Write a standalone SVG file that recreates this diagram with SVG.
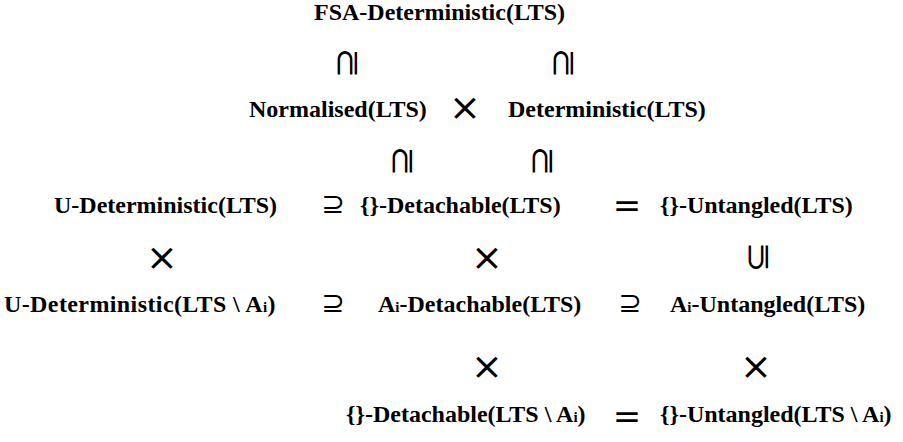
<svg xmlns="http://www.w3.org/2000/svg" width="903" height="442" viewBox="0 0 903 442">
<style>
.n{font-family:"Liberation Serif","Times New Roman",serif;font-weight:bold;font-size:24px;fill:#000}
.sub{font-size:15px}
.sym{font-family:"DejaVu Sans",sans-serif;fill:#000;text-anchor:middle}
.sup{font-size:28px}
.eq{font-size:34px}
.x{font-size:38px}
.rot{font-size:32px}
</style>
<rect width="903" height="442" fill="#fff"/>
<g id="fsa-det"><text class="n" x="314" y="20">FSA-Deterministic(LTS)</text></g>
<g id="normalised"><text class="n" x="249" y="117">Normalised(LTS)</text></g>
<g id="deterministic"><text class="n" x="508" y="117">Deterministic(LTS)</text></g>
<g id="u-det"><text class="n" x="54" y="213">U-Deterministic(LTS)</text></g>
<g id="empty-detachable"><text class="n" x="360" y="213">{}-Detachable(LTS)</text></g>
<g id="empty-untangled"><text class="n" x="660" y="213">{}-Untangled(LTS)</text></g>
<g id="u-det-ai"><text class="n" x="4" y="312" letter-spacing="0.4">U-Deterministic(LTS \ A<tspan class="sub">i</tspan>)</text></g>
<g id="ai-detachable"><text class="n" x="378" y="312">A<tspan class="sub">i</tspan>-Detachable(LTS)</text></g>
<g id="ai-untangled"><text class="n" x="670" y="312">A<tspan class="sub">i</tspan>-Untangled(LTS)</text></g>
<g id="empty-detachable-ai"><text class="n" x="346" y="422">{}-Detachable(LTS \ A<tspan class="sub">i</tspan>)</text></g>
<g id="empty-untangled-ai"><text class="n" x="660" y="422">{}-Untangled(LTS \ A<tspan class="sub">i</tspan>)</text></g>
<g id="connectors">
<text class="sym rot" transform="translate(346,63) rotate(-90) scale(1.15,1)" y="11">⊇</text>
<text class="sym rot" transform="translate(562,63) rotate(-90) scale(1.15,1)" y="11">⊇</text>
<text class="sym x" x="465" y="120">×</text>
<text class="sym rot" transform="translate(401,161) rotate(-90) scale(1.15,1)" y="11">⊇</text>
<text class="sym rot" transform="translate(541,161) rotate(-90) scale(1.15,1)" y="11">⊇</text>
<text class="sym sup" x="333" y="213">⊇</text>
<text class="sym eq" x="627" y="217">=</text>
<text class="sym x" x="162" y="270">×</text>
<text class="sym x" x="487" y="270">×</text>
<text class="sym rot" transform="translate(757,257) rotate(-90) scale(1.15,1)" y="11">⊆</text>
<text class="sym sup" x="333" y="312">⊇</text>
<text class="sym sup" x="630" y="312">⊇</text>
<text class="sym x" x="487" y="379">×</text>
<text class="sym x" x="756" y="379">×</text>
<text class="sym eq" x="627" y="428">=</text>
</g>
</svg>
